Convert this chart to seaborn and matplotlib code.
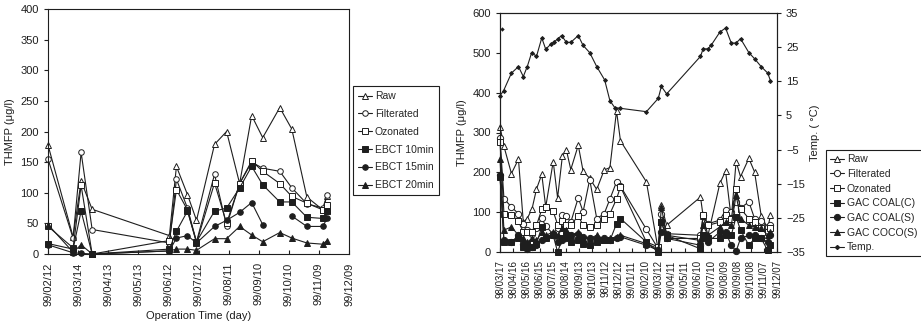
import numpy as np
import pandas as pd
import seaborn as sns
import matplotlib.pyplot as plt
import matplotlib.dates as mdates
from matplotlib.lines import Line2D

nan = np.nan

# left chart: THMFP through the pilot plant, days counted from 99/02/12
left_start = '1999-02-12'
left_end = '1999-12-09'
left_days = [0, 25, 33, 44, 121, 128, 139, 148, 166, 178, 191, 203, 214, 231, 243, 258, 274, 278]
raw_l = [178, 28, 119, 73, 30, 143, 97, 55, 179, 200, 115, 226, 190, 239, 204, 93, 72, 95]
filt_l = [155, 26, 166, 40, 18, 122, 75, 20, 130, 46, 115, 150, 140, 135, 108, 82, 75, 96]
ozon_l = [45, 10, 112, 0, 22, 105, 72, 18, 116, 50, 115, 152, 135, 115, 94, 83, 72, 80]
ebct10 = [17, 8, 70, 0, 8, 37, 70, 20, 70, 75, 108, 143, 113, 85, 85, 60, 58, 70]
ebct15 = [15, 2, 1, 0, 5, 26, 30, 18, 45, 55, 68, 84, 48, nan, 62, 45, 45, 58]  # nan = line break
ebct20 = [48, 3, 15, 0, 5, 8, 8, 6, 25, 25, 45, 31, 20, 35, 26, 18, 16, 22]
left_names = ['Raw', 'Filterated', 'Ozonated', 'EBCT 10min', 'EBCT 15min', 'EBCT 20min']

# right chart: THMFP and water temperature, days counted from 98/03/17
right_start = '1998-03-17'
right_end = '1999-12-07'
right_days = [0, 9, 26, 42, 53, 62, 73, 83, 95, 104, 121, 131, 142, 151, 161, 178, 189, 204, 220, 237,
              250, 265, 274, 333, 360, 367, 379, 456, 462, 473, 500, 513, 526, 537, 547, 566, 579, 594, 609, 615]
raw_r = [315, 265, 197, 233, 75, 84, 109, 158, 195, 113, 227, 136, 242, 256, 207, 268, 203, 185, 157, 206,
         212, 354, 279, 176, 4, 117, 67, 138, 90, 42, 172, 203, 84, 227, 189, 235, 201, 91, 59, 92]
filt_r = [285, 134, 113, 96, 70, 55, 45, 60, 85, 65, 45, 60, 92, 91, 75, 136, 101, 182, 84, 96,
          133, 176, 165, 57, 8, 96, 46, 42, 92, 71, 80, 105, 100, 126, 110, 126, 84, 77, 63, 67]
ozon_r = [277, 96, 94, 77, 50, 50, 50, 67, 107, 113, 102, 69, 77, 67, 67, 91, 67, 63, 67, 84,
          96, 133, 164, 25, 13, 75, 34, 34, 92, 67, 75, 92, 84, 159, 109, 84, 75, 59, 50, 59]
coal_c = [189, 25, 25, 34, 13, 21, 13, 21, 63, 34, 42, 0, 34, 42, 25, 29, 21, 17, 25, 29,
          29, 71, 84, 25, 0, 75, 42, 8, 42, 34, 34, 42, 42, 88, 55, 17, 34, 34, 4, 17]
coal_s = [193, 29, 25, 42, 21, 8, 13, 17, 29, 38, 42, 25, 29, 34, 42, 46, 38, 34, 34, 34,
          29, 34, 38, 17, 4, 50, 34, 17, 34, 25, 50, 50, 17, 2, 34, 42, 42, 34, 25, 42]
coco_s = [233, 55, 63, 42, 34, 25, 34, 29, 50, 42, 50, 42, 59, 55, 42, 50, 34, 34, 42, 29,
          34, 38, 42, 21, 8, 113, 42, 29, 67, 42, 63, 75, 67, 143, 84, 67, 63, 59, 42, 50]
right_names = ['Raw', 'Filterated', 'Ozonated', 'GAC COAL(C)', 'GAC COAL(S)', 'GAC COCO(S)']

temp_days = [0, 8, 26, 42, 53, 62, 72, 83, 95, 104, 115, 123, 131, 140, 151, 161, 178, 189, 204, 220, 238,
             250, 261, 273, 333, 360, 367, 379, 456, 462, 473, 481, 500, 513, 526, 537, 547, 566, 579, 594, 609, 615]
temp_vals = [10.8, 12.2, 17.4, 19.3, 16.4, 19.3, 23.4, 22.3, 27.7, 24.4, 25.8, 26.5, 27.4, 28.4, 26.4, 26.4,
             28.4, 25.5, 23.4, 19.3, 15.4, 9.3, 7.3, 7.1, 6.1, 10.0, 13.5, 11.3, 22.3, 24.5, 24.5, 25.7,
             29.4, 30.6, 26.2, 26.2, 27.5, 23.4, 21.6, 19.3, 17.4, 15.2]
temp_outlier_day = 4
temp_outlier = 30.4

sns.set_style('ticks')
plt.rcParams['font.family'] = ['Liberation Sans', 'DejaVu Sans']
plt.rcParams['font.size'] = 8
INK = '#1e1e1e'

# marker style per series position: marker, face colour
styles = [('^', 'white'), ('o', 'white'), ('s', 'white'), ('s', INK), ('o', INK), ('^', INK)]


def draw(ax, start, days, vals, marker, face, ms):
    df = pd.DataFrame({'day': days, 'val': vals})
    df['seg'] = df['val'].isna().cumsum()  # split line where value is missing
    df = df.dropna()
    df['date'] = pd.Timestamp(start) + pd.to_timedelta(df['day'], unit='D')
    sns.lineplot(data=df, x='date', y='val', units='seg', estimator=None, ax=ax,
                 color=INK, linewidth=0.8, marker=marker, markerfacecolor=face,
                 markeredgecolor=INK, markeredgewidth=0.7, markersize=ms, legend=False,
                 clip_on=False)


def style_axes(ax, start, end, xsize):
    ticks = pd.date_range(start, end, freq='30D')
    ax.set_xlim(pd.Timestamp(start), pd.Timestamp(end))
    ax.set_xticks(ticks)
    ax.xaxis.set_major_formatter(mdates.DateFormatter('%y/%m/%d'))
    ax.tick_params(axis='x', direction='in', length=3, labelrotation=90, labelsize=xsize, colors=INK, pad=6)
    ax.tick_params(axis='y', direction='out', length=3, labelsize=8, colors=INK)
    for s in ax.spines.values():
        s.set_color(INK)
        s.set_linewidth(0.8)


def handles(names, ms, extra=None):
    h = [Line2D([], [], color=INK, lw=0.8, marker=m, markerfacecolor=f, markeredgecolor=INK,
                markeredgewidth=0.7, markersize=ms, label=n) for n, (m, f) in zip(names, styles)]
    if extra:
        h.append(extra)
    return h


fig = plt.figure(figsize=(9.21, 3.32), dpi=100)

# ---- left chart
ax1 = fig.add_axes([48 / 921, 78 / 332, 301 / 921, 245 / 332])
for vals, (m, f) in zip([raw_l, filt_l, ozon_l, ebct10, ebct15, ebct20], styles):
    draw(ax1, left_start, left_days, vals, m, f, 4)
style_axes(ax1, left_start, left_end, 8)
ax1.set_ylim(0, 400)
ax1.set_yticks(range(0, 401, 50))
ax1.set_ylabel('THMFP (μg/l)', color=INK, fontsize=8)
ax1.set_xlabel('Operation Time (day)', color=INK, fontsize=8)

leg1 = fig.legend(handles=handles(left_names, 4), loc='upper left', bbox_to_anchor=(353 / 921, 1 - 86 / 332),
                  fontsize=7.5, frameon=True, fancybox=False, edgecolor=INK, framealpha=1,
                  handlelength=1.3, handletextpad=0.3, labelspacing=0.75, borderpad=0.5, borderaxespad=0)
leg1.get_frame().set_linewidth(0.8)

# ---- right chart
ax2 = fig.add_axes([500 / 921, 80 / 332, 277 / 921, 239 / 332])
for vals, (m, f) in zip([raw_r, filt_r, ozon_r, coal_c, coal_s, coco_s], styles):
    draw(ax2, right_start, right_days, vals, m, f, 4.5)
style_axes(ax2, right_start, right_end, 7)
ax2.set_ylim(0, 600)
ax2.set_yticks(range(0, 601, 100))
ax2.set_ylabel('THMFP (μg/l)', color=INK, fontsize=8)
ax2.set_xlabel('')

ax3 = ax2.twinx()
draw(ax3, right_start, temp_days, temp_vals, 'D', INK, 2)
sns.scatterplot(x=[pd.Timestamp(right_start) + pd.Timedelta(days=temp_outlier_day)], y=[temp_outlier],
                ax=ax3, marker='D', color=INK, s=5, linewidth=0)
ax3.set_xlim(pd.Timestamp(right_start), pd.Timestamp(right_end))
ax3.set_ylim(-35, 35)
ax3.set_yticks(range(-35, 36, 10))
ax3.tick_params(axis='y', direction='out', length=3, labelsize=8, colors=INK)
ax3.set_ylabel('Temp. ( °C)', color=INK, fontsize=8)
ax3.set_xlabel('')
for s in ax3.spines.values():
    s.set_color(INK)
    s.set_linewidth(0.8)

temp_handle = Line2D([], [], color=INK, lw=0.8, marker='D', markersize=2, label='Temp.')
leg2 = fig.legend(handles=handles(right_names, 4.5, temp_handle), loc='upper left',
                  bbox_to_anchor=(826 / 921, 1 - 150 / 332), fontsize=7.5, frameon=True, fancybox=False,
                  edgecolor=INK, framealpha=1, handlelength=1.3, handletextpad=0.3, labelspacing=0.45,
                  borderpad=0.4, borderaxespad=0)
leg2.get_frame().set_linewidth(0.8)

fig.savefig('out.png', dpi=100, facecolor='white')
